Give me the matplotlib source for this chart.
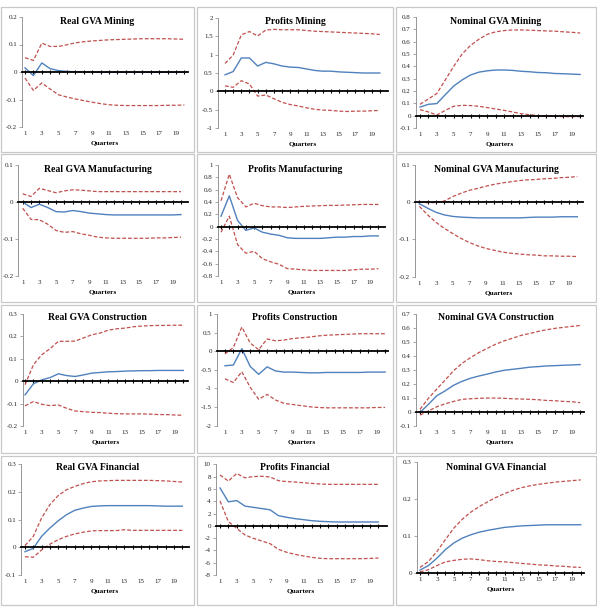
import matplotlib
matplotlib.use("Agg")
import matplotlib.pyplot as plt
from matplotlib.patches import Rectangle
from matplotlib.ticker import FuncFormatter, MultipleLocator

plt.rcParams['font.family'] = ['Liberation Serif', 'DejaVu Serif']

quarters = list(range(1, 21))
quarter_labels = [str(q) for q in range(1, 20, 2)]

titles = ["Real GVA Mining", "Profits Mining", "Nominal GVA Mining",
          "Real GVA Manufacturing", "Profits Manufacturing", "Nominal GVA Manufacturing",
          "Real GVA Construction", "Profits Construction", "Nominal GVA Construction",
          "Real GVA Financial", "Profits Financial", "Nominal GVA Financial"]

real_gva_mining_irf = [0.015, -0.013, 0.033, 0.012, 0.005, 0.002, 0.001, 0.0, 0.0, -0.001, -0.001, -0.001, -0.001, -0.001, -0.001, -0.001, -0.001, -0.001, -0.001, -0.001]
real_gva_mining_hi = [0.052, 0.042, 0.105, 0.093, 0.093, 0.099, 0.106, 0.110, 0.113, 0.115, 0.117, 0.118, 0.119, 0.120, 0.121, 0.121, 0.121, 0.121, 0.120, 0.119]
real_gva_mining_lo = [-0.022, -0.067, -0.040, -0.062, -0.083, -0.091, -0.098, -0.104, -0.110, -0.115, -0.119, -0.121, -0.122, -0.122, -0.122, -0.122, -0.122, -0.121, -0.121, -0.120]

profits_mining_irf = [0.45, 0.54, 0.91, 0.91, 0.69, 0.79, 0.75, 0.69, 0.66, 0.65, 0.61, 0.57, 0.55, 0.55, 0.53, 0.52, 0.51, 0.50, 0.50, 0.50]
profits_mining_hi = [0.76, 0.99, 1.54, 1.63, 1.51, 1.67, 1.69, 1.68, 1.68, 1.68, 1.66, 1.64, 1.63, 1.62, 1.61, 1.60, 1.59, 1.58, 1.57, 1.55]
profits_mining_lo = [0.15, 0.11, 0.29, 0.20, -0.13, -0.10, -0.20, -0.30, -0.36, -0.40, -0.45, -0.49, -0.51, -0.52, -0.54, -0.55, -0.54, -0.54, -0.53, -0.52]

nominal_gva_mining_irf = [0.070, 0.092, 0.098, 0.170, 0.240, 0.290, 0.330, 0.353, 0.364, 0.370, 0.370, 0.367, 0.360, 0.356, 0.350, 0.348, 0.342, 0.340, 0.337, 0.334]
nominal_gva_mining_hi = [0.092, 0.136, 0.180, 0.290, 0.400, 0.500, 0.570, 0.620, 0.660, 0.680, 0.690, 0.695, 0.695, 0.693, 0.690, 0.687, 0.685, 0.680, 0.676, 0.670]
nominal_gva_mining_lo = [0.049, 0.030, 0.005, 0.043, 0.076, 0.084, 0.082, 0.076, 0.065, 0.054, 0.043, 0.030, 0.016, 0.008, 0.000, -0.005, -0.006, -0.008, -0.008, -0.008]

real_gva_manuf_irf = [0.0, -0.015, -0.006, -0.015, -0.026, -0.027, -0.023, -0.026, -0.030, -0.032, -0.034, -0.035, -0.035, -0.035, -0.035, -0.035, -0.035, -0.035, -0.035, -0.034]
real_gva_manuf_hi = [0.022, 0.015, 0.037, 0.031, 0.025, 0.030, 0.033, 0.032, 0.030, 0.028, 0.028, 0.028, 0.028, 0.028, 0.028, 0.028, 0.028, 0.028, 0.028, 0.028]
real_gva_manuf_lo = [-0.017, -0.047, -0.048, -0.060, -0.077, -0.082, -0.080, -0.086, -0.090, -0.095, -0.097, -0.098, -0.098, -0.098, -0.098, -0.098, -0.097, -0.097, -0.096, -0.095]

profits_manuf_irf = [0.17, 0.50, 0.10, -0.06, -0.02, -0.09, -0.12, -0.14, -0.18, -0.19, -0.19, -0.19, -0.19, -0.18, -0.17, -0.17, -0.16, -0.16, -0.15, -0.15]
profits_manuf_hi = [0.42, 0.85, 0.47, 0.32, 0.38, 0.34, 0.32, 0.32, 0.31, 0.32, 0.33, 0.335, 0.34, 0.345, 0.345, 0.35, 0.355, 0.36, 0.36, 0.36]
profits_manuf_lo = [-0.09, 0.17, -0.29, -0.43, -0.40, -0.52, -0.57, -0.61, -0.68, -0.69, -0.70, -0.71, -0.71, -0.71, -0.71, -0.71, -0.70, -0.69, -0.69, -0.68]

nominal_gva_manuf_irf = [-0.004, -0.016, -0.027, -0.034, -0.038, -0.040, -0.041, -0.042, -0.042, -0.042, -0.042, -0.042, -0.042, -0.041, -0.040, -0.040, -0.040, -0.039, -0.039, -0.039]
nominal_gva_manuf_hi = [0.000, -0.001, -0.001, 0.003, 0.015, 0.024, 0.032, 0.037, 0.043, 0.048, 0.052, 0.055, 0.058, 0.060, 0.061, 0.063, 0.064, 0.066, 0.067, 0.069]
nominal_gva_manuf_lo = [-0.011, -0.034, -0.054, -0.070, -0.084, -0.097, -0.108, -0.117, -0.124, -0.129, -0.134, -0.137, -0.139, -0.141, -0.142, -0.144, -0.144, -0.145, -0.145, -0.146]

real_gva_constr_irf = [-0.061, -0.012, 0.006, 0.016, 0.033, 0.025, 0.021, 0.028, 0.036, 0.039, 0.042, 0.043, 0.045, 0.046, 0.047, 0.047, 0.048, 0.048, 0.048, 0.048]
real_gva_constr_hi = [-0.016, 0.073, 0.118, 0.145, 0.178, 0.178, 0.179, 0.193, 0.207, 0.215, 0.228, 0.234, 0.237, 0.243, 0.246, 0.248, 0.249, 0.249, 0.250, 0.250]
real_gva_constr_lo = [-0.110, -0.091, -0.103, -0.109, -0.106, -0.121, -0.133, -0.136, -0.139, -0.140, -0.143, -0.145, -0.146, -0.146, -0.146, -0.147, -0.149, -0.149, -0.151, -0.152]

profits_constr_irf = [-0.39, -0.37, 0.07, -0.41, -0.62, -0.42, -0.53, -0.56, -0.56, -0.57, -0.58, -0.58, -0.57, -0.57, -0.57, -0.57, -0.57, -0.56, -0.56, -0.56]
profits_constr_hi = [-0.07, 0.10, 0.65, 0.22, 0.04, 0.33, 0.28, 0.30, 0.34, 0.36, 0.38, 0.41, 0.43, 0.44, 0.45, 0.46, 0.47, 0.47, 0.47, 0.47]
profits_constr_lo = [-0.74, -0.84, -0.55, -0.97, -1.29, -1.16, -1.31, -1.40, -1.43, -1.46, -1.49, -1.51, -1.52, -1.52, -1.52, -1.52, -1.52, -1.52, -1.51, -1.51]

nominal_gva_constr_irf = [-0.005, 0.053, 0.115, 0.150, 0.190, 0.218, 0.240, 0.256, 0.270, 0.285, 0.297, 0.304, 0.311, 0.319, 0.323, 0.328, 0.330, 0.333, 0.335, 0.338]
nominal_gva_constr_hi = [0.017, 0.096, 0.163, 0.228, 0.295, 0.347, 0.388, 0.424, 0.455, 0.484, 0.508, 0.527, 0.547, 0.560, 0.575, 0.587, 0.597, 0.604, 0.611, 0.618]
nominal_gva_constr_lo = [-0.024, 0.005, 0.036, 0.057, 0.074, 0.089, 0.093, 0.096, 0.098, 0.098, 0.096, 0.093, 0.091, 0.089, 0.086, 0.081, 0.079, 0.074, 0.072, 0.065]

real_gva_fin_irf = [-0.016, -0.004, 0.039, 0.069, 0.095, 0.117, 0.133, 0.141, 0.147, 0.149, 0.150, 0.150, 0.150, 0.150, 0.150, 0.150, 0.149, 0.148, 0.148, 0.148]
real_gva_fin_hi = [0.006, 0.039, 0.105, 0.153, 0.186, 0.207, 0.219, 0.229, 0.236, 0.239, 0.240, 0.241, 0.241, 0.241, 0.241, 0.241, 0.240, 0.239, 0.237, 0.235]
real_gva_fin_lo = [-0.034, -0.036, -0.010, 0.011, 0.027, 0.039, 0.048, 0.054, 0.059, 0.060, 0.060, 0.060, 0.063, 0.061, 0.061, 0.061, 0.061, 0.061, 0.061, 0.061]

profits_fin_irf = [6.15, 3.9, 4.1, 3.2, 3.0, 2.8, 2.6, 1.65, 1.38, 1.16, 1.0, 0.83, 0.73, 0.67, 0.62, 0.62, 0.62, 0.62, 0.62, 0.62]
profits_fin_hi = [8.26, 7.27, 8.5, 7.8, 8.0, 8.05, 7.94, 7.34, 7.18, 7.12, 7.0, 6.9, 6.8, 6.74, 6.74, 6.74, 6.74, 6.74, 6.74, 6.74]
profits_fin_lo = [4.03, 0.67, -0.41, -1.5, -2.04, -2.47, -2.9, -3.83, -4.31, -4.64, -4.9, -5.13, -5.29, -5.35, -5.35, -5.35, -5.35, -5.35, -5.3, -5.24]

nominal_gva_fin_irf = [0.008, 0.020, 0.040, 0.063, 0.081, 0.094, 0.103, 0.110, 0.115, 0.119, 0.123, 0.125, 0.127, 0.128, 0.129, 0.130, 0.130, 0.130, 0.130, 0.130]
nominal_gva_fin_hi = [0.015, 0.031, 0.058, 0.090, 0.121, 0.145, 0.164, 0.179, 0.192, 0.204, 0.214, 0.223, 0.230, 0.235, 0.239, 0.242, 0.245, 0.247, 0.249, 0.251]
nominal_gva_fin_lo = [0.003, 0.009, 0.020, 0.030, 0.034, 0.037, 0.038, 0.036, 0.033, 0.031, 0.030, 0.028, 0.026, 0.024, 0.022, 0.021, 0.019, 0.018, 0.016, 0.015]

series = [
    (real_gva_mining_irf, real_gva_mining_hi, real_gva_mining_lo),
    (profits_mining_irf, profits_mining_hi, profits_mining_lo),
    (nominal_gva_mining_irf, nominal_gva_mining_hi, nominal_gva_mining_lo),
    (real_gva_manuf_irf, real_gva_manuf_hi, real_gva_manuf_lo),
    (profits_manuf_irf, profits_manuf_hi, profits_manuf_lo),
    (nominal_gva_manuf_irf, nominal_gva_manuf_hi, nominal_gva_manuf_lo),
    (real_gva_constr_irf, real_gva_constr_hi, real_gva_constr_lo),
    (profits_constr_irf, profits_constr_hi, profits_constr_lo),
    (nominal_gva_constr_irf, nominal_gva_constr_hi, nominal_gva_constr_lo),
    (real_gva_fin_irf, real_gva_fin_hi, real_gva_fin_lo),
    (profits_fin_irf, profits_fin_hi, profits_fin_lo),
    (nominal_gva_fin_irf, nominal_gva_fin_hi, nominal_gva_fin_lo),
]

# y-axis ranges and steps
ylims = [(-0.2, 0.2, 0.1), (-1, 2, 0.5), (-0.1, 0.8, 0.1),
         (-0.2, 0.1, 0.1), (-0.8, 1, 0.2), (-0.2, 0.1, 0.1),
         (-0.2, 0.3, 0.1), (-2, 1, 0.5), (-0.1, 0.7, 0.1),
         (-0.1, 0.3, 0.1), (-8, 10, 2), (0, 0.3, 0.1)]

# ---- layout (pixels) ----
W, H = 597, 608
# plot areas: left, right, top, bottom
areas = [(22, 188, 17, 127), (217.7, 388, 18, 128), (415.7, 583, 17, 128),
         (18.3, 188, 165, 276), (217.7, 385, 165, 276), (415, 583, 165, 276.7),
         (22.7, 188, 314, 426), (216.7, 387.7, 314, 425.7), (415.7, 584, 314, 425.7),
         (21, 189, 464, 575), (215.7, 386.7, 464.3, 575), (416.7, 584, 461.7, 573)]
xlims = [(0.64, 20.43), (0.1, 21.0), (0.49, 20.34),
         (0.47, 20.84), (0.6, 20.8), (0.48, 20.68),
         (0.72, 20.56), (0.02, 20.31), (0.49, 20.46),
         (0.52, 20.81), (0.48, 20.99), (0.61, 20.38)]
# panel boxes: x0, x1, y0, y1
col_x = [(1, 194), (197, 393), (396, 596)]
row_y = [(7, 152), (154, 302), (305, 453), (456, 605)]
title_y = [21.5, 170, 318, 467]

BLUE = '#4F81BD'
RED = '#C0504D'
GRAY = '#868686'

fig = plt.figure(figsize=(W / 100, H / 100), dpi=100)
fig.patch.set_facecolor('white')

fmt = FuncFormatter(lambda v, p: f'{round(v, 6):g}')

for i in range(12):
    r, c = divmod(i, 3)
    bx0, bx1 = col_x[c]
    by0, by1 = row_y[r]
    fig.add_artist(Rectangle((bx0 / W, 1 - by1 / H), (bx1 - bx0) / W, (by1 - by0) / H,
                             transform=fig.transFigure, fill=False,
                             edgecolor='#c8c8c8', lw=0.9))
    l, rr, t, b = areas[i]
    ax = fig.add_axes([l / W, 1 - b / H, (rr - l) / W, (b - t) / H])
    ax.set_facecolor('none')
    irf, hi, lo = series[i]
    ax.plot(quarters, hi, color=RED, lw=0.9, ls=(0, (3, 1.6)))
    ax.plot(quarters, lo, color=RED, lw=0.9, ls=(0, (3, 1.6)))
    ax.plot(quarters, irf, color=BLUE, lw=1.0)
    y0, y1, step = ylims[i]
    ax.set_ylim(y0, y1)
    ax.set_xlim(*xlims[i])
    ax.yaxis.set_major_locator(MultipleLocator(step))
    ax.yaxis.set_major_formatter(fmt)
    ax.tick_params(axis='y', labelsize=5, length=2, width=0.5, color=GRAY,
                   pad=1.5, labelcolor='#222222')
    for s in ('top', 'right'):
        ax.spines[s].set_visible(False)
    ax.spines['left'].set_color(GRAY)
    ax.spines['left'].set_linewidth(0.6)
    ax.spines['bottom'].set_position(('data', 0))
    ax.spines['bottom'].set_color('black')
    ax.spines['bottom'].set_linewidth(1.3)
    ax.set_xticks(quarters)
    ax.tick_params(axis='x', direction='inout', length=3, width=0.8,
                   labelbottom=False, color='black')
    sec = ax.secondary_xaxis(0.0)
    sec.set_xticks([int(q) for q in quarter_labels])
    sec.set_xticklabels(quarter_labels)
    sec.spines['bottom'].set_visible(False)
    sec.tick_params(axis='x', length=0, labelsize=5, pad=3, labelcolor='#222222')
    sec.set_xlabel('Quarters', fontsize=5.2, fontweight='bold', labelpad=3)
    fig.text(((bx0 + bx1) / 2) / W, 1 - title_y[r] / H, titles[i],
             ha='center', va='center', fontsize=7, fontweight='bold')

fig.savefig('out.png', dpi=100)
